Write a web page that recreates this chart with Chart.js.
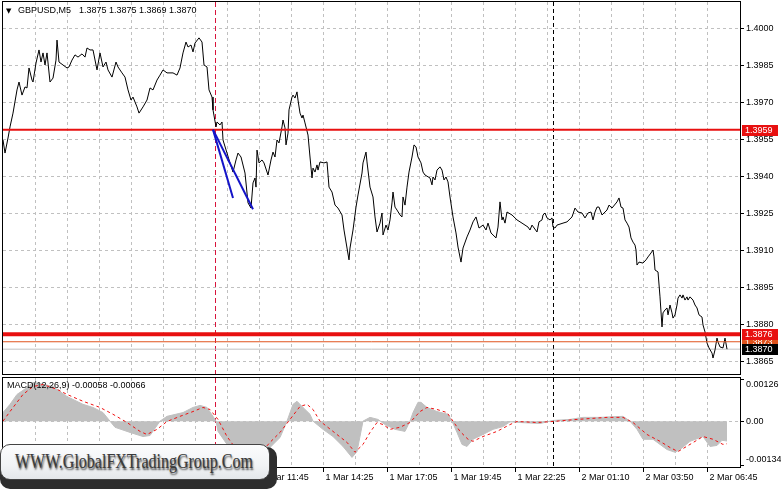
<!DOCTYPE html>
<html><head><meta charset="utf-8">
<script src="https://cdn.jsdelivr.net/npm/chart.js@4.4.0/dist/chart.umd.min.js"></script>
<style>
html,body{margin:0;padding:0;background:#fff;width:781px;height:489px;overflow:hidden;position:relative;}
canvas{position:absolute;left:0;}
#c1{top:0;}
#c2{top:376px;}
#wmShadow{position:absolute;left:0;top:447px;width:277px;height:42px;border-radius:10px;background:#2e2e2e;}
#wm{position:absolute;left:0;top:444px;width:270px;height:36px;border-radius:10px;background:linear-gradient(to bottom,#fbfcfd 0%,#f1f3f5 60%,#e4e7ea 100%);border:1px solid #444;box-sizing:border-box;}
#wmText{position:absolute;left:14px;top:5px;font:20px "Liberation Serif",serif;color:#3a3a3a;transform:scaleX(0.8);transform-origin:0 0;white-space:nowrap;text-shadow:1px 2px 2px rgba(0,0,0,0.75);}
</style></head><body>
<canvas id="c1" width="781" height="376"></canvas>
<canvas id="c2" width="781" height="113"></canvas>
<div id="wmShadow"></div>
<div id="wm"><span id="wmText">WWW.GlobalFXTradingGroup.Com</span></div>
<script>
// ---------- DATA ----------
const symbolTitle = 'GBPUSD,M5';
const ohlcValues = ['1.3875', '1.3875', '1.3869', '1.3870'];
const macdTitle = 'MACD(12,26,9) -0.00058 -0.00066';

// price close path: [bar index, price]
const priceCloses = [
[0,1.39548],[1,1.39495],[2.5,1.39556],[3.5,1.39601],[5,1.39657],[7,1.39751],[8,1.39783],[9.5,1.39730],[11,1.39763],[12,1.39759],
[13,1.39840],[14.5,1.39791],[15,1.39783],[16.5,1.39860],[18,1.39913],[19,1.39864],[20,1.39901],[21,1.39852],[22,1.39901],[23.5,1.39783],
[25,1.39799],[26.5,1.39872],[27,1.39953],[28,1.39864],[30,1.39852],[32,1.39840],[33,1.39844],[34.5,1.39872],[36,1.39893],[37.5,1.39884],
[39.5,1.39897],[41,1.39884],[42,1.39921],[43.5,1.39913],[45,1.39913],[47,1.39832],[48.5,1.39901],[50,1.39844],[51.5,1.39864],[52.5,1.39832],
[54.5,1.39803],[56.5,1.39864],[57.5,1.39844],[59.5,1.39820],[61,1.39803],[62.5,1.39751],[64,1.39710],[65,1.39722],[67,1.39682],[68,1.39657],
[70,1.39682],[72,1.39710],[73.5,1.39759],[75,1.39751],[77,1.39791],[78.5,1.39811],[80,1.39832],[82,1.39820],[85,1.39820],[87,1.39811],
[88.5,1.39840],[90,1.39901],[91.5,1.39945],[92.5,1.39925],[94,1.39933],[95,1.39905],[96,1.39941],[98,1.39962],[99.5,1.39945],[100.5,1.39852],
[102,1.39844],[103,1.39751],[104.5,1.39722],[105,1.39670],[106.5,1.39601],[107,1.39621],[108.5,1.39609],[109.5,1.39621],[110,1.39548],[112,1.39495],
[113.5,1.39455],[115,1.39418],[116.5,1.39467],[117.5,1.39495],[119,1.39479],[121,1.39414],[122.5,1.39293],[124,1.39272],[125,1.39374],[126,1.39394],
[126.5,1.39357],[127,1.39507],[128,1.39455],[129.5,1.39467],[130.5,1.39455],[132.5,1.39406],[134,1.39467],[135,1.39499],[136,1.39479],[137,1.39548],
[138,1.39536],[139.5,1.39601],[140,1.39629],[141,1.39597],[141.5,1.39528],[142.5,1.39576],[143,1.39670],[144.5,1.39722],[145,1.39730],[146,1.39718],
[147,1.39743],[147.5,1.39710],[148.5,1.39657],[149.5,1.39637],[150,1.39649],[151,1.39617],[152.5,1.39568],[153.5,1.39479],[154.5,1.39394],[155,1.39434],
[156,1.39418],[157,1.39447],[157.5,1.39426],[158.5,1.39459],[160.5,1.39455],[162,1.39459],[163,1.39357],[164.5,1.39337],[166,1.39284],[167.5,1.39272],
[169.5,1.39244],[170.5,1.39183],[172,1.39110],[173,1.39062],[173.5,1.39110],[175,1.39183],[176.5,1.39276],[177.5,1.39325],[179.5,1.39414],[180,1.39455],
[181.5,1.39499],[182,1.39459],[183.5,1.39357],[185,1.39317],[186,1.39236],[187,1.39175],[188.5,1.39211],[189.5,1.39252],[190,1.39163],[191.5,1.39203],
[192.5,1.39183],[193.5,1.39224],[194.5,1.39293],[195,1.39337],[196,1.39276],[197,1.39264],[198.5,1.39244],[199.5,1.39236],[200,1.39317],[201,1.39284],
[202,1.39357],[203,1.39418],[204.5,1.39479],[205.5,1.39528],[206.5,1.39520],[207.5,1.39479],[209,1.39455],[210,1.39418],[211,1.39406],[213.5,1.39394],
[214.5,1.39366],[215,1.39398],[216,1.39386],[217,1.39426],[218.5,1.39439],[219.5,1.39426],[220.5,1.39386],[221.5,1.39398],[222.5,1.39378],[223.5,1.39317],
[225,1.39236],[226.5,1.39171],[227.5,1.39114],[229,1.39053],[230,1.39110],[232,1.39155],[233.5,1.39183],[235,1.39216],[236.5,1.39236],[238,1.39191],
[240,1.39203],[241.5,1.39183],[242.5,1.39211],[244,1.39171],[245,1.39163],[246.5,1.39151],[247.5,1.39195],[248.5,1.39297],[249.5,1.39224],[250,1.39236],
[251,1.39211],[252,1.39256],[254.5,1.39244],[257,1.39224],[259.5,1.39211],[261,1.39203],[262.5,1.39195],[263.5,1.39183],[264.5,1.39203],[267,1.39175],
[268,1.39216],[269.5,1.39224],[270,1.39244],[271,1.39252],[272,1.39232],[273.5,1.39224],[274.5,1.39232],[275,1.39195],[276,1.39191],[277,1.39203],
[280,1.39211],[282,1.39216],[284.5,1.39236],[286,1.39272],[287.5,1.39256],[289.5,1.39252],[291,1.39232],[292.5,1.39252],[294,1.39256],[295,1.39224],
[296,1.39256],[297,1.39276],[298,1.39276],[299.5,1.39244],[300.5,1.39252],[302,1.39264],[303,1.39284],[304.5,1.39272],[307,1.39297],[308,1.39313],
[309,1.39276],[310,1.39272],[311,1.39224],[312,1.39211],[313,1.39195],[314,1.39151],[315,1.39134],[316,1.39122],[316.5,1.39102],[317,1.39041],
[318,1.39053],[320,1.39049],[321.5,1.39062],[322.5,1.39074],[324,1.39090],[325,1.39102],[325.5,1.39074],[326,1.39021],[327.5,1.39013],[328.5,1.38912],
[329.5,1.38790],[330,1.38847],[331,1.38859],[332,1.38867],[332.5,1.38839],[333.5,1.38879],[334.5,1.38847],[335,1.38826],[336,1.38839],[337,1.38879],
[337.5,1.38907],[338.5,1.38920],[339.5,1.38907],[340,1.38920],[341,1.38899],[342,1.38912],[342.5,1.38899],[343.5,1.38912],[345,1.38899],[346,1.38879],
[347,1.38867],[348,1.38839],[349.5,1.38830],[350,1.38798],[351,1.38770],[352,1.38725],[353,1.38705],[354.5,1.38684],[355,1.38664],[356,1.38697],
[357,1.38745],[357.5,1.38729],[358.5,1.38709],[360,1.38705],[361,1.38745],[362,1.38700]
];

// horizontal levels
const levelPrices = [1.3959, 1.3876, 1.3873, 1.3870];
// trend lines drawn on chart: [startBar, startPrice, endBar, endPrice]
const trendLine1 = [105, 1.3959, 115, 1.39313];
const trendLine2 = [105, 1.3959, 125, 1.39267];
// vertical markers (bar index)
const markerBars = [106, 275];

// MACD histogram outline: [bar, value]
const macdHist = [
[0,0.00025],[3.5,0.00049],[7,0.00078],[12,0.00098],[15,0.00113],[18.5,0.00110],[25,0.00101],[32,0.00072],[40,0.00049],[45,0.00040],
[50,0.00025],[53.5,0],[56,-0.00018],[63.5,-0.00033],[70,-0.00045],[73.5,-0.00042],[78.5,0],[82,0.00014],[90,0.00025],[95,0.00040],
[98.5,0.00046],[102,0.00040],[105,0.00014],[106.5,0],[107.5,-0.00030],[112,-0.00068],[118.5,-0.00089],[126,-0.00097],[133.5,-0.00077],[138.5,-0.00048],
[142,0],[145,0.00049],[147,0.00058],[150,0.00040],[153.5,0.00020],[155,0],[160,-0.00024],[165,-0.00045],[170,-0.00074],[174.5,-0.00106],
[177,-0.00089],[180,0],[183.5,0.00011],[187.5,0.00005],[191,-0.00010],[196,-0.00024],[201,-0.00030],[203.5,0],[205,0.00025],[207.5,0.00055],
[209,0.00055],[212,0.00040],[217,0.00028],[222.5,0.00020],[224.5,0],[227,-0.00033],[229.5,-0.00068],[232,-0.00074],[235,-0.00053],[240,-0.00039],
[245,-0.00024],[250,-0.00016],[253.5,-0.00002],[258.5,-0.00004],[268.5,-0.00007],[275,0.00002],[283.5,0.00005],[290,0.00011],[298.5,0.00011],[310,0.00014],
[313.5,0],[317,-0.00024],[320,-0.00053],[325,-0.00053],[328.5,-0.00068],[332,-0.00083],[336,-0.00091],[338.5,-0.00083],[343.5,-0.00059],[350,-0.00045],
[353.5,-0.00074],[357,-0.00071],[359.5,-0.00056],[362,-0.00058]
];
// MACD signal line: [bar, value]
const macdSignal = [
[0,0],[3.5,0.00028],[10,0.00078],[15,0.00101],[20,0.00107],[27,0.00093],[32,0.00078],[40,0.00058],[48.5,0.00040],[55,0.00020],
[62,-0.00004],[68.5,-0.00030],[72,-0.00039],[77,-0.00024],[82,-0.00001],[88.5,0.00014],[95,0.00028],[100,0.00040],[103.5,0.00034],[107.5,0.00005],
[112,-0.00045],[116,-0.00077],[123.5,-0.00097],[129.5,-0.00089],[133.5,-0.00062],[138.5,-0.00033],[143.5,0.00005],[148.5,0.00043],[152,0.00049],[155,0.00034],
[158.5,0],[165,-0.00030],[172,-0.00062],[176,-0.00091],[180,-0.00068],[183.5,-0.00033],[187,-0.00004],[190,-0.00010],[193.5,-0.00024],[198.5,-0.00018],
[203.5,-0.00004],[208.5,0.00028],[212,0.00040],[217,0.00034],[222,0.00025],[225,0],[228.5,-0.00030],[232.5,-0.00053],[235,-0.00059],[240,-0.00045],
[247,-0.00030],[253.5,-0.00010],[257,-0.00001],[267,-0.00004],[275,-0.00001],[287,0.00005],[302,0.00011],[310,0.00011],[315,-0.00004],[322,-0.00039],
[328.5,-0.00059],[333.5,-0.00077],[337.5,-0.00089],[343.5,-0.00068],[350,-0.00045],[355,-0.00053],[360,-0.00068],[362,-0.00066]
];

// axes / ticks
const barRange = [0, 368.5];
const priceRange = [1.385993, 1.401074];
const macdRange = [-0.00134, 0.00126];
const priceTicks = [1.4000, 1.3985, 1.3970, 1.3955, 1.3940, 1.3925, 1.3910, 1.3895, 1.3880, 1.3865];
const macdTicks = [0.00126, 0.00, -0.00134];
const macdTickLabels = ['0.00126', '0.00', '-0.00134'];
const gridBars = [16,32,48,64,80,96,112,128,144,160,176,192,208,224,240,256,272,288,304,320,336,352];
const timeTickBars = [32,64,96,128,160,192,224,256,288,320,352];
const timeTickLabels = ['1 Mar 03:45','1 Mar 06:25','1 Mar 09:05','1 Mar 11:45','1 Mar 14:25','1 Mar 17:05','1 Mar 19:45','1 Mar 22:25','2 Mar 01:10','2 Mar 03:50','2 Mar 06:45'];

// ---------- STYLE ----------
const FONT = '9px "Liberation Sans", Arial, sans-serif';
const GRID = '#c0c0c0';
const levelStyles = [
  {color:'#e81010', width:2, tag:'#e81010', text:'#fff'},
  {color:'#e81010', width:4, tag:'#e81010', text:'#fff'},
  {color:'#e0531c', width:1, tag:'#e0531c', text:'#fff'},
  {color:'#c0c0c0', width:1, tag:'#000000', text:'#fff'}
];
const markerStyles = [{color:'#d8143c', dash:[5,3]}, {color:'#000000', dash:[4,3]}];

const toXY = arr => arr.map(p => ({x:p[0], y:p[1]}));

function drawGridAndMarkers(chart, yLines) {
  const {ctx, chartArea:a, scales:{x, y}} = chart;
  ctx.save();
  ctx.strokeStyle = GRID; ctx.lineWidth = 1; ctx.setLineDash([3,3]);
  ctx.beginPath();
  gridBars.forEach(b => { const p = Math.round(x.getPixelForValue(b)) + 0.5; ctx.moveTo(p, a.top); ctx.lineTo(p, a.bottom); });
  yLines.forEach(v => { const p = Math.round(y.getPixelForValue(v)) + 0.5; ctx.moveTo(a.left, p); ctx.lineTo(a.right, p); });
  ctx.stroke();
  markerBars.forEach((b, i) => {
    const p = Math.round(x.getPixelForValue(b)) + 0.5;
    ctx.strokeStyle = markerStyles[i].color; ctx.setLineDash(markerStyles[i].dash);
    ctx.beginPath(); ctx.moveTo(p, a.top); ctx.lineTo(p, a.bottom); ctx.stroke();
  });
  ctx.restore();
}
function drawFrame(chart) {
  const {ctx, chartArea:a} = chart;
  ctx.save(); ctx.strokeStyle = '#000'; ctx.lineWidth = 1; ctx.setLineDash([]);
  ctx.strokeRect(a.left - 0.5, a.top - 0.5, a.right - a.left + 1, a.bottom - a.top + 1);
  ctx.restore();
}

const mainPlugin = {
  id: 'mtMain',
  beforeDatasetsDraw(chart) { drawGridAndMarkers(chart, priceTicks); },
  afterDraw(chart) {
    const {ctx, chartArea:a, scales:{y}} = chart;
    drawFrame(chart);
    ctx.save();
    ctx.font = FONT; ctx.textBaseline = 'middle'; ctx.textAlign = 'left';
    ctx.fillStyle = '#000'; ctx.strokeStyle = '#000'; ctx.lineWidth = 1;
    priceTicks.forEach(v => {
      const p = Math.round(y.getPixelForValue(v)) + 0.5;
      ctx.beginPath(); ctx.moveTo(a.right, p); ctx.lineTo(a.right + 4, p); ctx.stroke();
      ctx.fillText(v.toFixed(4), a.right + 6, p);
    });
    // price tags (orange first, then others above it)
    [2, 0, 1, 3].forEach(i => {
      const v = levelPrices[i], s = levelStyles[i];
      const p = Math.round(y.getPixelForValue(v));
      ctx.fillStyle = s.tag;
      ctx.fillRect(a.right + 2, p - 5, 36, 11);
      ctx.fillStyle = s.text;
      ctx.fillText(v.toFixed(4), a.right + 5, p + 0.5);
    });
    // title
    ctx.fillStyle = '#000';
    ctx.font = '7px "DejaVu Sans", sans-serif';
    ctx.fillText('▼', 6, 11);
    ctx.font = FONT;
    ctx.fillText(symbolTitle, 18, 11);
    ctx.fillText(ohlcValues.join(' '), 79, 11);
    ctx.restore();
  }
};

const macdPlugin = {
  id: 'mtMacd',
  beforeDatasetsDraw(chart) { drawGridAndMarkers(chart, [0]); },
  afterDraw(chart) {
    const {ctx, chartArea:a, scales:{x, y}} = chart;
    drawFrame(chart);
    ctx.save();
    ctx.font = FONT; ctx.textBaseline = 'middle'; ctx.textAlign = 'left';
    ctx.fillStyle = '#000'; ctx.strokeStyle = '#000'; ctx.lineWidth = 1;
    macdTicks.forEach((v, i) => {
      let p = Math.round(y.getPixelForValue(v)) + 0.5;
      p = Math.min(Math.max(p, a.top + 1.5), a.bottom - 1.5);
      ctx.beginPath(); ctx.moveTo(a.right, p); ctx.lineTo(a.right + 4, p); ctx.stroke();
      const ty = Math.min(Math.max(p, a.top + 7), a.bottom - 7);
      ctx.fillText(macdTickLabels[i], a.right + 6, ty);
    });
    timeTickBars.forEach((b, i) => {
      const p = Math.round(x.getPixelForValue(b)) + 0.5;
      ctx.beginPath(); ctx.moveTo(p, a.bottom + 1); ctx.lineTo(p, a.bottom + 5); ctx.stroke();
      ctx.fillText(timeTickLabels[i], p + 2, a.bottom + 11);
    });
    ctx.fillText(macdTitle, 7, a.top + 8);
    ctx.restore();
  }
};

const common = {
  responsive: false, animation: false, events: [],
  plugins: {legend:{display:false}, tooltip:{enabled:false}},
  elements: {point:{radius:0}, line:{tension:0}}
};

new Chart(document.getElementById('c1'), {
  type: 'line',
  data: {datasets: [
    {data: toXY([trendLine1.slice(0,2), trendLine1.slice(2)]), borderColor:'#1414c8', borderWidth:2, order:0},
    {data: toXY([trendLine2.slice(0,2), trendLine2.slice(2)]), borderColor:'#1414c8', borderWidth:2, order:0},
    ...levelPrices.map((v, i) => ({
      data: [{x:barRange[0], y:v}, {x:barRange[1], y:v}],
      borderColor: levelStyles[i].color, borderWidth: levelStyles[i].width, order: i === 3 ? 3 : 1
    })),
    {data: toXY(priceCloses), borderColor:'#000', borderWidth:1, order:2}
  ]},
  options: Object.assign({}, common, {
    layout: {padding: {left:3, right:41, top:2, bottom:2}},
    scales: {
      x: {type:'linear', min:barRange[0], max:barRange[1], display:false},
      y: {type:'linear', min:priceRange[0], max:priceRange[1], display:false}
    }
  }),
  plugins: [mainPlugin]
});

new Chart(document.getElementById('c2'), {
  type: 'line',
  data: {datasets: [
    {data: toXY(macdSignal), borderColor:'#f01010', borderWidth:1, borderDash:[3,3], order:0},
    {data: toXY(macdHist), borderColor:'#c0c0c0', backgroundColor:'#c0c0c0', borderWidth:1, fill:'origin', order:1}
  ]},
  options: Object.assign({}, common, {
    layout: {padding: {left:3, right:41, top:2, bottom:22}},
    scales: {
      x: {type:'linear', min:barRange[0], max:barRange[1], display:false},
      y: {type:'linear', min:macdRange[0], max:macdRange[1], display:false}
    }
  }),
  plugins: [macdPlugin]
});
</script>
</body></html>
